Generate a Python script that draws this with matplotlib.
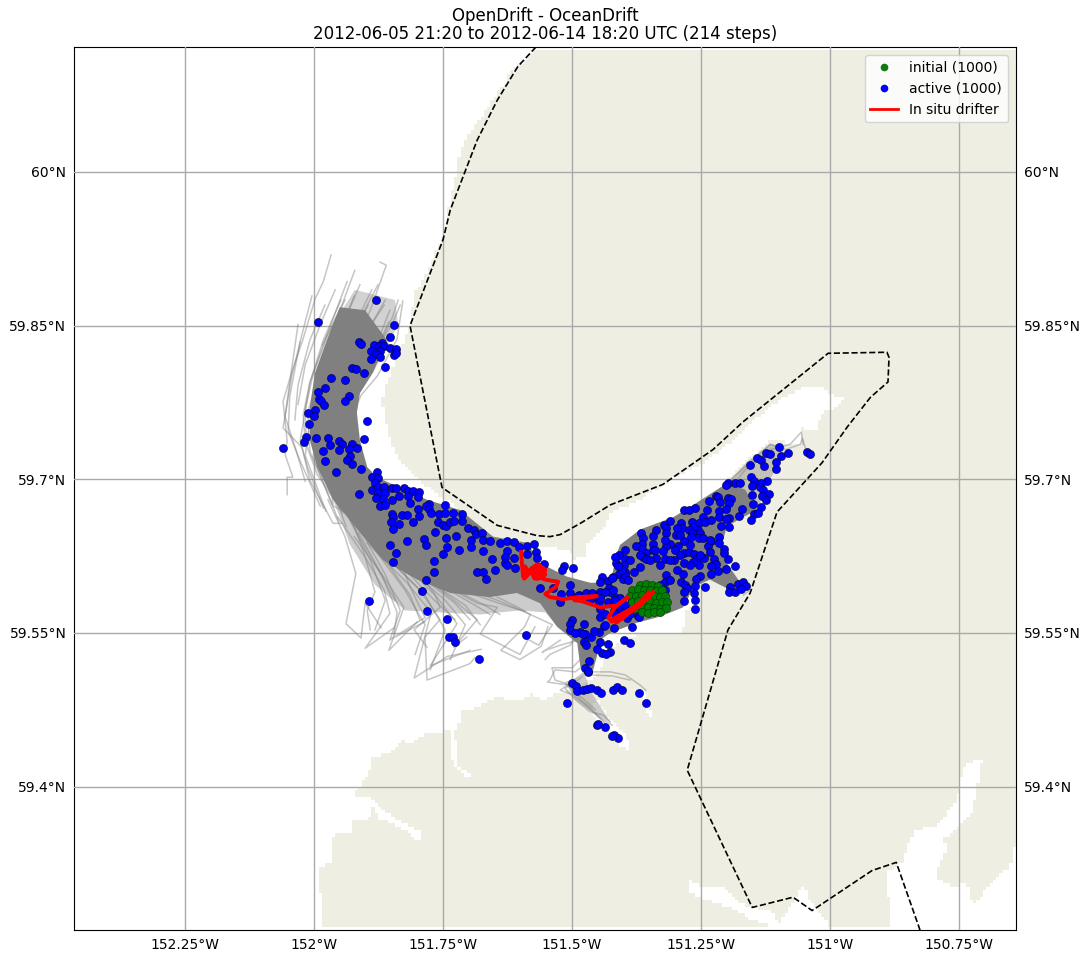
import matplotlib
matplotlib.use("Agg")
import matplotlib.pyplot as plt
import numpy as np
from matplotlib.colors import ListedColormap
from matplotlib.path import Path

lon_ticks = [-152.25, -152.0, -151.75, -151.5, -151.25, -151.0, -150.75]
lon_labels = ["152.25°W", "152°W", "151.75°W", "151.5°W", "151.25°W", "151°W", "150.75°W"]
lat_ticks = [60.0, 59.85, 59.7, 59.55, 59.4]
lat_labels = ["60°N", "59.85°N", "59.7°N", "59.55°N", "59.4°N"]

# dashed outline of the seeding/model domain
domain_lon = [-151.570, -151.605, -151.645, -151.684, -151.736, -151.750, -151.814, -151.752, -151.645,
              -151.568, -151.543, -151.523, -151.484, -151.426, -151.324, -151.227, -151.169, -151.004,
              -150.890, -150.886, -150.888, -150.922, -150.967, -151.016, -151.103, -151.155, -151.198,
              -151.277, -151.151, -151.072, -151.035, -150.919, -150.872, -150.826]
domain_lat = [60.122, 60.103, 60.070, 60.031, 59.963, 59.934, 59.850, 59.692, 59.655,
              59.645, 59.644, 59.646, 59.657, 59.675, 59.695, 59.729, 59.756, 59.823,
              59.824, 59.819, 59.795, 59.780, 59.751, 59.716, 59.668, 59.589, 59.553,
              59.416, 59.282, 59.292, 59.279, 59.318, 59.326, 59.260]

# water areas, everything else in the map is land
sea_main = [(-152.465, 60.122), (-151.570, 60.122), (-151.570, 60.119), (-151.605, 60.104), (-151.618, 60.100),
            (-151.630, 60.087), (-151.645, 60.077), (-151.662, 60.063), (-151.674, 60.055), (-151.701, 60.036),
            (-151.711, 60.028), (-151.721, 60.011), (-151.725, 59.997), (-151.734, 59.978), (-151.746, 59.943),
            (-151.789, 59.894), (-151.804, 59.883), (-151.814, 59.851), (-151.839, 59.817), (-151.862, 59.792),
            (-151.868, 59.775), (-151.862, 59.758), (-151.849, 59.734), (-151.833, 59.719), (-151.789, 59.696),
            (-151.756, 59.683), (-151.731, 59.677), (-151.692, 59.657), (-151.645, 59.641), (-151.581, 59.638),
            (-151.500, 59.629), (-151.498, 59.621), (-151.475, 59.626), (-151.475, 59.633), (-151.432, 59.657),
            (-151.426, 59.667), (-151.368, 59.680), (-151.310, 59.699), (-151.246, 59.716), (-151.188, 59.738),
            (-151.116, 59.772), (-151.064, 59.787), (-151.039, 59.792), (-151.019, 59.790), (-150.994, 59.782),
            (-150.965, 59.782), (-150.975, 59.779), (-150.996, 59.767), (-151.019, 59.765), (-151.023, 59.748),
            (-151.054, 59.750), (-151.058, 59.736), (-151.116, 59.737), (-151.161, 59.719), (-151.188, 59.706),
            (-151.213, 59.687), (-151.252, 59.673), (-151.252, 59.630), (-151.252, 59.592), (-151.281, 59.568),
            (-151.285, 59.551), (-151.329, 59.548), (-151.378, 59.548), (-151.417, 59.538), (-151.446, 59.531),
            (-151.442, 59.518), (-151.450, 59.508), (-151.446, 59.512), (-151.465, 59.504), (-151.494, 59.494),
            (-151.514, 59.492), (-151.537, 59.490), (-151.554, 59.485), (-151.578, 59.490), (-151.599, 59.485),
            (-151.626, 59.485), (-151.645, 59.490), (-151.665, 59.482), (-151.686, 59.477), (-151.713, 59.473),
            (-151.723, 59.455), (-151.734, 59.456), (-151.754, 59.453), (-151.783, 59.452), (-151.797, 59.448),
            (-151.816, 59.441), (-151.829, 59.446), (-151.851, 59.434), (-151.889, 59.428), (-151.893, 59.410),
            (-151.907, 59.407), (-151.909, 59.400), (-151.919, 59.395), (-151.919, 59.389), (-151.893, 59.390),
            (-151.878, 59.384), (-151.889, 59.377), (-151.893, 59.366), (-151.926, 59.366), (-151.928, 59.355),
            (-151.957, 59.355), (-151.967, 59.348), (-151.967, 59.326), (-151.990, 59.321), (-151.990, 59.302),
            (-151.984, 59.285), (-151.984, 59.258), (-152.465, 59.258)]
sea_south_east = [(-150.884, 59.258), (-150.884, 59.283), (-150.893, 59.316), (-150.859, 59.326), (-150.851, 59.341),
                  (-150.835, 59.358), (-150.793, 59.361), (-150.754, 59.387), (-150.742, 59.419), (-150.705, 59.428),
                  (-150.719, 59.390), (-150.723, 59.377), (-150.748, 59.361), (-150.783, 59.348), (-150.771, 59.341),
                  (-150.791, 59.322), (-150.791, 59.309), (-150.762, 59.302), (-150.735, 59.306), (-150.723, 59.283),
                  (-150.696, 59.302), (-150.651, 59.322), (-150.645, 59.341), (-150.635, 59.348), (-150.635, 59.258)]
sea_bottom_inlet = [(-151.277, 59.309), (-151.248, 59.302), (-151.209, 59.304), (-151.174, 59.286), (-151.151, 59.282),
                    (-151.112, 59.279), (-151.101, 59.264), (-151.052, 59.304), (-151.039, 59.289), (-151.006, 59.268),
                    (-151.000, 59.263), (-151.112, 59.263), (-151.151, 59.270), (-151.184, 59.280), (-151.242, 59.290),
                    (-151.277, 59.299)]
sea_thin_1 = [(-151.734, 59.456), (-151.727, 59.455), (-151.721, 59.421), (-151.698, 59.411), (-151.707, 59.408), (-151.733, 59.426)]
sea_thin_2 = [(-151.893, 59.390), (-151.878, 59.384), (-151.853, 59.372), (-151.814, 59.361), (-151.791, 59.356),
              (-151.795, 59.346), (-151.810, 59.353), (-151.843, 59.363), (-151.872, 59.368), (-151.882, 59.375)]
sea_streak_1 = [(-151.452, 59.485), (-151.426, 59.465), (-151.397, 59.451), (-151.384, 59.434), (-151.407, 59.441),
                (-151.436, 59.457), (-151.465, 59.473)]
sea_streak_2 = [(-151.374, 59.499), (-151.359, 59.490), (-151.343, 59.467), (-151.359, 59.475)]
sea_top = [(-151.570, 60.125), (-150.625, 60.125), (-150.625, 60.119), (-151.570, 60.119)]
sea_bottom = [(-152.465, 59.263), (-150.625, 59.263), (-150.625, 59.255), (-152.465, 59.255)]
water_areas = [sea_main, sea_south_east, sea_bottom_inlet, sea_thin_1, sea_thin_2, sea_streak_1, sea_streak_2, sea_top, sea_bottom]

# where the tracks overlap so much that they merge to solid grey
core_plume = [(-151.950, 59.868), (-151.975, 59.836), (-151.998, 59.804), (-152.008, 59.771), (-152.008, 59.738),
              (-151.994, 59.712), (-151.963, 59.680), (-151.911, 59.648), (-151.866, 59.621), (-151.800, 59.602),
              (-151.736, 59.589), (-151.659, 59.585), (-151.607, 59.589), (-151.562, 59.579), (-151.529, 59.556),
              (-151.490, 59.540), (-151.484, 59.517), (-151.459, 59.514), (-151.450, 59.531), (-151.446, 59.543),
              (-151.426, 59.550), (-151.374, 59.560), (-151.329, 59.566), (-151.285, 59.575), (-151.277, 59.582),
              (-151.265, 59.595), (-151.233, 59.602), (-151.194, 59.592), (-151.174, 59.599), (-151.200, 59.618),
              (-151.213, 59.631), (-151.200, 59.654), (-151.169, 59.663), (-151.141, 59.670), (-151.165, 59.690),
              (-151.200, 59.696), (-151.265, 59.675), (-151.304, 59.663), (-151.368, 59.651), (-151.407, 59.636),
              (-151.413, 59.628), (-151.426, 59.599), (-151.465, 59.599), (-151.510, 59.605), (-151.562, 59.618),
              (-151.587, 59.638), (-151.653, 59.644), (-151.717, 59.670), (-151.781, 59.680), (-151.839, 59.693),
              (-151.878, 59.702), (-151.897, 59.712), (-151.911, 59.738), (-151.917, 59.765), (-151.911, 59.784),
              (-151.886, 59.804), (-151.859, 59.836), (-151.901, 59.865)]
upper_fan = [(-151.969, 59.846), (-151.921, 59.885), (-151.843, 59.875), (-151.837, 59.851), (-151.882, 59.807),
             (-151.917, 59.782), (-151.988, 59.782)]
south_fan = [(-151.963, 59.680), (-151.930, 59.636), (-151.882, 59.597), (-151.824, 59.572), (-151.756, 59.570),
             (-151.678, 59.568), (-151.601, 59.572), (-151.552, 59.570), (-151.523, 59.553), (-151.552, 59.582),
             (-151.607, 59.592), (-151.736, 59.592), (-151.872, 59.626)]
lower_fan = [(-151.514, 59.502), (-151.475, 59.509), (-151.465, 59.494), (-151.426, 59.463), (-151.446, 59.467), (-151.494, 59.485)]
ne_arm = [(-151.265, 59.675), (-151.200, 59.696), (-151.161, 59.717), (-151.116, 59.735), (-151.087, 59.731),
          (-151.107, 59.709), (-151.126, 59.690), (-151.141, 59.670), (-151.213, 59.670)]
dense_areas = [(upper_fan, 0.35), (south_fan, 0.4), (lower_fan, 0.4), (ne_arm, 0.4)]

# single tracks that can still be followed by eye
tracks = [
    [(-151.967, 59.919), (-151.982, 59.893), (-151.998, 59.876), (-152.023, 59.834), (-152.041, 59.808), (-152.060, 59.776), (-152.052, 59.737), (-152.056, 59.724), (-152.041, 59.702), (-152.052, 59.702), (-152.052, 59.685)],
    [(-152.004, 59.879), (-152.021, 59.846), (-152.043, 59.801), (-152.060, 59.750), (-152.023, 59.731), (-152.008, 59.699), (-151.963, 59.657), (-151.946, 59.657)],
    [(-151.936, 59.893), (-151.975, 59.841), (-152.008, 59.795), (-152.021, 59.763), (-152.017, 59.737), (-151.994, 59.705), (-151.944, 59.667)],
    [(-151.872, 59.912), (-151.860, 59.909), (-151.891, 59.865), (-151.924, 59.829), (-151.959, 59.797), (-151.994, 59.764), (-151.992, 59.729), (-151.949, 59.709)],
    [(-151.828, 59.874), (-151.839, 59.837), (-151.877, 59.801), (-151.909, 59.782), (-151.930, 59.756), (-151.915, 59.707)],
    [(-151.855, 59.854), (-151.884, 59.821), (-151.915, 59.782), (-151.954, 59.756), (-151.973, 59.720), (-151.963, 59.674), (-151.909, 59.660)],
    [(-151.837, 59.875), (-151.849, 59.857), (-151.884, 59.821), (-151.926, 59.792), (-151.948, 59.753), (-151.928, 59.707)],
    [(-151.948, 59.875), (-151.982, 59.836), (-152.008, 59.794), (-152.027, 59.737), (-152.012, 59.711), (-151.982, 59.672)],
    [(-151.922, 59.879), (-151.954, 59.840), (-151.990, 59.801), (-152.012, 59.766), (-152.008, 59.727), (-151.965, 59.676)],
    [(-151.895, 59.870), (-151.928, 59.840), (-151.967, 59.805), (-151.994, 59.768), (-151.992, 59.727), (-151.936, 59.672)],
    [(-151.864, 59.870), (-151.909, 59.836), (-151.948, 59.805), (-151.977, 59.769), (-151.977, 59.730), (-151.919, 59.676)],
    [(-152.031, 59.851), (-152.047, 59.795), (-152.056, 59.761), (-152.037, 59.732), (-152.017, 59.698)],
    [(-152.027, 59.834), (-152.047, 59.781), (-152.050, 59.747), (-152.027, 59.718), (-151.988, 59.674)],
    [(-151.938, 59.848), (-151.977, 59.810), (-152.006, 59.766), (-152.017, 59.723), (-151.977, 59.669)],
    [(-151.905, 59.858), (-151.948, 59.815), (-151.983, 59.771), (-152.002, 59.722), (-151.952, 59.659)],
    [(-151.880, 59.836), (-151.924, 59.800), (-151.963, 59.761), (-151.983, 59.717), (-151.938, 59.654)],
    [(-151.911, 59.890), (-151.940, 59.856), (-151.969, 59.817), (-151.992, 59.782), (-151.998, 59.748)],
    [(-151.888, 59.885), (-151.921, 59.851), (-151.953, 59.812), (-151.979, 59.777), (-151.988, 59.738)],
    [(-151.940, 59.875), (-151.973, 59.841), (-152.002, 59.802), (-152.017, 59.768), (-152.015, 59.738)],
    [(-151.862, 59.875), (-151.895, 59.846), (-151.930, 59.812), (-151.959, 59.777)],
    [(-151.921, 59.904), (-151.946, 59.870), (-151.984, 59.831)],
    [(-151.959, 59.885), (-151.988, 59.851), (-152.017, 59.812), (-152.031, 59.773)],
    [(-151.979, 59.870), (-152.008, 59.836), (-152.031, 59.792), (-152.037, 59.758)],
    [(-151.853, 59.865), (-151.872, 59.841), (-151.901, 59.817)],
    [(-151.876, 59.890), (-151.907, 59.860), (-151.940, 59.831)],
    [(-151.833, 59.870), (-151.849, 59.851), (-151.882, 59.826)],
    [(-151.973, 59.680), (-151.940, 59.644), (-151.919, 59.608), (-151.938, 59.559), (-151.909, 59.545), (-151.901, 59.579), (-151.870, 59.555)],
    [(-151.954, 59.663), (-151.901, 59.624), (-151.864, 59.592), (-151.853, 59.569), (-151.901, 59.535), (-151.845, 59.555)],
    [(-151.922, 59.644), (-151.864, 59.604), (-151.826, 59.575), (-151.855, 59.533), (-151.800, 59.561)],
    [(-151.897, 59.638), (-151.820, 59.599), (-151.773, 59.570), (-151.806, 59.506), (-151.742, 59.527), (-151.676, 59.534)],
    [(-151.859, 59.624), (-151.795, 59.592), (-151.756, 59.563), (-151.785, 59.546), (-151.781, 59.504), (-151.698, 59.520), (-151.688, 59.526)],
    [(-151.820, 59.614), (-151.762, 59.585), (-151.723, 59.559), (-151.775, 59.518), (-151.698, 59.533)],
    [(-151.781, 59.602), (-151.729, 59.582), (-151.684, 59.563), (-151.729, 59.536), (-151.704, 59.546)],
    [(-151.742, 59.595), (-151.684, 59.579), (-151.645, 59.575), (-151.678, 59.549), (-151.601, 59.529), (-151.572, 59.556)],
    [(-151.703, 59.592), (-151.645, 59.582), (-151.581, 59.568), (-151.592, 59.556), (-151.638, 59.533), (-151.601, 59.524), (-151.560, 59.537), (-151.547, 59.556)],
    [(-151.806, 59.614), (-151.767, 59.589), (-151.756, 59.575), (-151.806, 59.553), (-151.781, 59.536)],
    [(-151.841, 59.631), (-151.814, 59.595), (-151.785, 59.565), (-151.851, 59.544), (-151.785, 59.561)],
    [(-151.913, 59.648), (-151.868, 59.606), (-151.839, 59.570), (-151.845, 59.549)],
    [(-151.936, 59.673), (-151.903, 59.628), (-151.882, 59.590), (-151.897, 59.572), (-151.891, 59.553)],
    [(-151.645, 59.585), (-151.605, 59.575), (-151.581, 59.568), (-151.538, 59.558), (-151.565, 59.538), (-151.590, 59.545)],
    [(-151.940, 59.670), (-151.891, 59.621), (-151.862, 59.582), (-151.882, 59.553)],
    [(-151.911, 59.651), (-151.862, 59.607), (-151.833, 59.572), (-151.853, 59.543)],
    [(-151.882, 59.631), (-151.824, 59.592), (-151.785, 59.558), (-151.804, 59.529)],
    [(-151.843, 59.616), (-151.785, 59.587), (-151.746, 59.553), (-151.775, 59.514)],
    [(-151.804, 59.607), (-151.746, 59.582), (-151.707, 59.558), (-151.736, 59.524)],
    [(-151.767, 59.597), (-151.707, 59.577), (-151.678, 59.558)],
    [(-151.727, 59.592), (-151.669, 59.577), (-151.640, 59.568)],
    [(-151.688, 59.587), (-151.630, 59.577), (-151.591, 59.571)],
    [(-151.862, 59.621), (-151.814, 59.587), (-151.795, 59.563)],
    [(-151.930, 59.660), (-151.876, 59.612), (-151.843, 59.582)],
    [(-151.824, 59.612), (-151.767, 59.582), (-151.727, 59.563)],
    [(-151.785, 59.602), (-151.727, 59.579), (-151.698, 59.563)],
    [(-151.746, 59.594), (-151.688, 59.577), (-151.659, 59.568)],
    [(-151.488, 59.543), (-151.523, 59.538), (-151.552, 59.533), (-151.558, 59.531), (-151.523, 59.543)],
    [(-151.475, 59.519), (-151.494, 59.512), (-151.533, 59.514), (-151.543, 59.504), (-151.548, 59.502), (-151.504, 59.499), (-151.484, 59.485), (-151.465, 59.477), (-151.446, 59.467), (-151.422, 59.460)],
    [(-151.465, 59.516), (-151.488, 59.504), (-151.514, 59.496), (-151.494, 59.485), (-151.465, 59.473), (-151.440, 59.470), (-151.426, 59.463)],
    [(-151.484, 59.524), (-151.500, 59.516), (-151.539, 59.516), (-151.533, 59.504), (-151.514, 59.501), (-151.488, 59.490), (-151.455, 59.475)],
    [(-151.465, 59.512), (-151.426, 59.512), (-151.397, 59.509), (-151.368, 59.499), (-151.357, 59.494)],
    [(-151.465, 59.509), (-151.422, 59.508), (-151.388, 59.504)],
    [(-151.484, 59.553), (-151.504, 59.538), (-151.543, 59.529), (-151.552, 59.524)],
    [(-151.475, 59.512), (-151.523, 59.494), (-151.500, 59.490), (-151.475, 59.480), (-151.432, 59.460)],
    [(-151.252, 59.665), (-151.194, 59.699), (-151.116, 59.734), (-151.087, 59.729), (-151.058, 59.734), (-151.054, 59.740), (-151.047, 59.729), (-151.039, 59.725)],
    [(-151.213, 59.680), (-151.165, 59.709), (-151.116, 59.729), (-151.078, 59.734), (-151.056, 59.746), (-151.052, 59.734)],
    [(-151.174, 59.599), (-151.155, 59.592), (-151.168, 59.587)],
]

# particles at their last position
active_west = [(-151.880, 59.875), (-151.992, 59.854), (-151.845, 59.851), (-151.853, 59.839), (-151.913, 59.834), (-151.909, 59.832),
               (-151.884, 59.831), (-151.868, 59.833), (-151.874, 59.830), (-151.864, 59.830), (-151.853, 59.828), (-151.841, 59.827),
               (-151.890, 59.825), (-151.872, 59.825), (-151.880, 59.822), (-151.872, 59.819), (-151.890, 59.817), (-151.845, 59.821),
               (-151.841, 59.823), (-151.862, 59.810), (-151.926, 59.809), (-151.919, 59.808), (-151.903, 59.804), (-151.967, 59.799),
               (-151.940, 59.797), (-151.979, 59.789), (-151.992, 59.785), (-151.932, 59.781), (-151.940, 59.776), (-151.990, 59.778),
               (-151.986, 59.776), (-151.981, 59.773), (-151.998, 59.768), (-152.012, 59.765), (-152.000, 59.762), (-151.897, 59.757),
               (-152.010, 59.754), (-152.016, 59.741), (-152.019, 59.736), (-151.996, 59.740), (-151.973, 59.740), (-151.952, 59.737),
               (-151.946, 59.734), (-151.903, 59.739), (-152.060, 59.731), (-151.969, 59.733), (-151.926, 59.734), (-151.916, 59.731),
               (-151.932, 59.730), (-151.952, 59.729), (-151.982, 59.728), (-151.930, 59.723), (-151.936, 59.719), (-151.979, 59.718),
               (-151.926, 59.715), (-151.909, 59.710), (-151.957, 59.707), (-151.878, 59.707), (-151.887, 59.702), (-151.876, 59.701),
               (-151.882, 59.696), (-151.887, 59.690), (-151.913, 59.686)]
active_north_shore = [(-151.876, 59.692), (-151.864, 59.692), (-151.849, 59.691), (-151.841, 59.691), (-151.826, 59.691), (-151.818, 59.689),
                      (-151.808, 59.689), (-151.797, 59.688), (-151.876, 59.687), (-151.862, 59.687), (-151.880, 59.682), (-151.866, 59.681),
                      (-151.849, 59.680), (-151.835, 59.684), (-151.818, 59.684), (-151.799, 59.683), (-151.872, 59.674), (-151.862, 59.675),
                      (-151.814, 59.677), (-151.799, 59.671), (-151.777, 59.676), (-151.783, 59.674), (-151.777, 59.671), (-151.773, 59.667),
                      (-151.746, 59.675), (-151.849, 59.666), (-151.847, 59.663), (-151.830, 59.665), (-151.820, 59.665), (-151.797, 59.664),
                      (-151.851, 59.658), (-151.835, 59.656), (-151.808, 59.658), (-151.847, 59.651), (-151.820, 59.640), (-151.787, 59.642),
                      (-151.766, 59.649), (-151.744, 59.643), (-151.725, 59.645), (-151.758, 59.666), (-151.746, 59.667), (-151.760, 59.658),
                      (-151.750, 59.655), (-151.744, 59.654), (-151.736, 59.658), (-151.729, 59.659), (-151.731, 59.667), (-151.713, 59.666),
                      (-151.713, 59.659), (-151.702, 59.652), (-151.690, 59.650), (-151.686, 59.647), (-151.674, 59.648), (-151.695, 59.641),
                      (-151.673, 59.641), (-151.660, 59.640), (-151.640, 59.638), (-151.626, 59.640), (-151.612, 59.639), (-151.602, 59.634),
                      (-151.587, 59.635), (-151.574, 59.637), (-151.570, 59.629), (-151.587, 59.627), (-151.673, 59.630), (-151.626, 59.630),
                      (-151.655, 59.622), (-151.630, 59.624), (-151.612, 59.623), (-151.630, 59.618), (-151.626, 59.616), (-151.610, 59.613),
                      (-151.568, 59.623), (-151.555, 59.617), (-151.516, 59.615), (-151.498, 59.613), (-151.519, 59.611), (-151.649, 59.611),
                      (-151.667, 59.603), (-151.684, 59.609), (-151.672, 59.609), (-151.696, 59.634), (-151.719, 59.631), (-151.742, 59.634),
                      (-151.750, 59.627), (-151.767, 59.620), (-151.768, 59.609), (-151.783, 59.602), (-151.791, 59.591), (-151.781, 59.571),
                      (-151.893, 59.581), (-151.841, 59.628), (-151.847, 59.619), (-151.853, 59.636), (-151.783, 59.636)]
active_south = [(-151.742, 59.564), (-151.738, 59.546), (-151.730, 59.546), (-151.726, 59.541), (-151.680, 59.525), (-151.589, 59.548),
                (-151.562, 59.594), (-151.537, 59.594), (-151.522, 59.588), (-151.504, 59.589), (-151.524, 59.580), (-151.486, 59.587),
                (-151.473, 59.589), (-151.460, 59.585), (-151.449, 59.587), (-151.446, 59.590), (-151.416, 59.585), (-151.420, 59.578),
                (-151.407, 59.574), (-151.446, 59.566), (-151.477, 59.559), (-151.500, 59.563), (-151.504, 59.559), (-151.485, 59.551),
                (-151.477, 59.541), (-151.463, 59.546), (-151.448, 59.551), (-151.446, 59.541), (-151.431, 59.539), (-151.427, 59.531),
                (-151.399, 59.543), (-151.388, 59.540), (-151.442, 59.530), (-151.504, 59.553), (-151.494, 59.550), (-151.475, 59.549),
                (-151.457, 59.552), (-151.479, 59.549), (-151.473, 59.538), (-151.452, 59.534), (-151.434, 59.529), (-151.467, 59.523),
                (-151.469, 59.512), (-151.475, 59.516), (-151.469, 59.513), (-151.500, 59.501), (-151.492, 59.498), (-151.490, 59.493),
                (-151.479, 59.494), (-151.471, 59.495), (-151.463, 59.496), (-151.452, 59.494), (-151.444, 59.491), (-151.420, 59.494),
                (-151.413, 59.497), (-151.403, 59.494), (-151.370, 59.491), (-151.357, 59.482), (-151.510, 59.482), (-151.452, 59.460),
                (-151.449, 59.461), (-151.436, 59.458), (-151.419, 59.450), (-151.411, 59.447), (-151.423, 59.449)]
active_ne = [(-151.099, 59.732), (-151.125, 59.726), (-151.116, 59.725), (-151.096, 59.723), (-151.082, 59.726), (-151.045, 59.727),
             (-151.039, 59.725), (-151.142, 59.721), (-151.134, 59.719), (-151.105, 59.717), (-151.129, 59.713), (-151.105, 59.710),
             (-151.156, 59.714), (-151.154, 59.702), (-151.148, 59.698), (-151.122, 59.698), (-151.134, 59.696), (-151.185, 59.696),
             (-151.175, 59.696), (-151.198, 59.696), (-151.202, 59.694), (-151.152, 59.693), (-151.136, 59.692), (-151.130, 59.690),
             (-151.119, 59.686), (-151.152, 59.685), (-151.132, 59.684), (-151.221, 59.684), (-151.217, 59.683), (-151.198, 59.682),
             (-151.192, 59.681), (-151.235, 59.679), (-151.214, 59.678), (-151.196, 59.677), (-151.124, 59.680), (-151.150, 59.676),
             (-151.134, 59.673), (-151.262, 59.672), (-151.283, 59.670), (-151.274, 59.670), (-151.238, 59.670), (-151.216, 59.669),
             (-151.202, 59.671), (-151.171, 59.671), (-151.148, 59.666), (-151.139, 59.667), (-151.196, 59.662), (-151.246, 59.663),
             (-151.216, 59.663), (-151.202, 59.661), (-151.177, 59.664), (-151.154, 59.660), (-151.310, 59.659), (-151.289, 59.657),
             (-151.268, 59.658), (-151.254, 59.657), (-151.243, 59.658), (-151.230, 59.660), (-151.212, 59.654), (-151.196, 59.653),
             (-151.256, 59.650), (-151.266, 59.653), (-151.287, 59.652), (-151.274, 59.650), (-151.322, 59.655), (-151.337, 59.650),
             (-151.318, 59.652), (-151.297, 59.652), (-151.252, 59.648), (-151.268, 59.648), (-151.366, 59.648), (-151.362, 59.643),
             (-151.343, 59.645), (-151.318, 59.648), (-151.299, 59.646), (-151.269, 59.644), (-151.254, 59.643), (-151.216, 59.644),
             (-151.343, 59.637), (-151.283, 59.640), (-151.295, 59.635), (-151.311, 59.637), (-151.231, 59.640), (-151.246, 59.643),
             (-151.216, 59.638), (-151.237, 59.635), (-151.364, 59.637), (-151.376, 59.635), (-151.364, 59.632), (-151.318, 59.635),
             (-151.324, 59.630), (-151.343, 59.631), (-151.357, 59.628), (-151.301, 59.631), (-151.206, 59.632), (-151.233, 59.629),
             (-151.206, 59.628), (-151.409, 59.626), (-151.417, 59.624), (-151.362, 59.624), (-151.397, 59.622), (-151.357, 59.622),
             (-151.337, 59.623), (-151.320, 59.622), (-151.303, 59.621), (-151.283, 59.628), (-151.273, 59.629), (-151.264, 59.627),
             (-151.258, 59.623), (-151.245, 59.623), (-151.414, 59.618), (-151.399, 59.616), (-151.225, 59.622), (-151.221, 59.617),
             (-151.198, 59.622), (-151.231, 59.615), (-151.254, 59.616), (-151.266, 59.619), (-151.283, 59.618), (-151.184, 59.615),
             (-151.202, 59.612), (-151.217, 59.610), (-151.231, 59.608), (-151.252, 59.606), (-151.260, 59.603), (-151.285, 59.608),
             (-151.318, 59.607), (-151.380, 59.609), (-151.397, 59.609), (-151.409, 59.608), (-151.442, 59.605), (-151.430, 59.601),
             (-151.420, 59.605), (-151.401, 59.603), (-151.320, 59.600), (-151.330, 59.597), (-151.289, 59.600), (-151.281, 59.597),
             (-151.262, 59.596), (-151.243, 59.595), (-151.194, 59.595), (-151.179, 59.598), (-151.169, 59.600), (-151.163, 59.596),
             (-151.196, 59.590), (-151.185, 59.590), (-151.173, 59.593), (-151.277, 59.594), (-151.283, 59.590), (-151.264, 59.589),
             (-151.262, 59.582), (-151.283, 59.581), (-151.262, 59.573), (-151.429, 59.594), (-151.461, 59.589), (-151.446, 59.586),
             (-151.426, 59.590), (-151.408, 59.584), (-151.414, 59.579), (-151.446, 59.587), (-151.448, 59.580), (-151.430, 59.580),
             (-151.418, 59.578), (-151.446, 59.573), (-151.418, 59.571), (-151.411, 59.569), (-151.394, 59.565), (-151.372, 59.567),
             (-151.438, 59.557), (-151.418, 59.555), (-151.384, 59.556), (-151.370, 59.566)]
active_inner = [(-151.397, 59.607), (-151.368, 59.614), (-151.349, 59.621), (-151.388, 59.621), (-151.403, 59.611), (-151.422, 59.604),
                (-151.436, 59.590), (-151.417, 59.582), (-151.436, 59.568), (-151.417, 59.568), (-151.388, 59.568), (-151.397, 59.577),
                (-151.384, 59.582), (-151.392, 59.602), (-151.329, 59.616), (-151.310, 59.621), (-151.291, 59.626), (-151.271, 59.616),
                (-151.320, 59.592), (-151.310, 59.602), (-151.297, 59.611), (-151.271, 59.636), (-151.252, 59.626), (-151.233, 59.641),
                (-151.291, 59.646), (-151.320, 59.641), (-151.339, 59.631), (-151.368, 59.626), (-151.397, 59.631), (-151.411, 59.615),
                (-151.420, 59.592), (-151.446, 59.584), (-151.465, 59.582), (-151.488, 59.586), (-151.504, 59.597), (-151.446, 59.600),
                (-151.436, 59.558), (-151.392, 59.571)]

initial_lon = [-151.368, -151.357, -151.345, -151.333,
               -151.384, -151.372, -151.360, -151.349, -151.337, -151.326,
               -151.388, -151.376, -151.364, -151.353, -151.341, -151.329, -151.320,
               -151.384, -151.372, -151.360, -151.349, -151.337, -151.326, -151.316,
               -151.376, -151.364, -151.353, -151.341, -151.329, -151.318,
               -151.364, -151.353, -151.341, -151.329]
initial_lat = [59.597, 59.598, 59.597, 59.596,
               59.592, 59.593, 59.592, 59.592, 59.591, 59.592,
               59.586, 59.586, 59.587, 59.586, 59.586, 59.585, 59.586,
               59.580, 59.581, 59.580, 59.580, 59.579, 59.580, 59.580,
               59.574, 59.574, 59.575, 59.574, 59.573, 59.574,
               59.570, 59.569, 59.570, 59.570]

drifter_lon = [-151.599, -151.595, -151.591, -151.583, -151.593, -151.579, -151.566, -151.552, -151.556, -151.572,
               -151.581, -151.564, -151.552, -151.566, -151.576, -151.560, -151.570, -151.582, -151.558, -151.574, -151.566, -151.552, -151.527, -151.531,
               -151.552, -151.543, -151.517, -151.488, -151.452, -151.496, -151.481, -151.446, -151.413, -151.392,
               -151.417, -151.430, -151.423, -151.403, -151.368, -151.343, -151.368, -151.407, -151.423, -151.388, -151.349,
               -151.360, -151.398, -151.415, -151.378, -151.352]
drifter_lat = [59.629, 59.605, 59.615, 59.608, 59.603, 59.613, 59.617, 59.612, 59.604, 59.603,
               59.611, 59.614, 59.607, 59.603, 59.608, 59.612, 59.616, 59.610, 59.608, 59.604, 59.605, 59.602, 59.600, 59.595,
               59.588, 59.585, 59.583, 59.585, 59.586, 59.582, 59.581, 59.575, 59.577, 59.585,
               59.575, 59.565, 59.561, 59.565, 59.577, 59.590, 59.579, 59.563, 59.563, 59.573, 59.585,
               59.584, 59.566, 59.560, 59.575, 59.589]

fig = plt.figure(figsize=(10.9, 9.61), dpi=100)
ax = fig.add_axes([74 / 1090, 1 - 930 / 961, 942 / 1090, 883 / 961])
ax.set_xlim(-152.465, -150.640)
ax.set_ylim(59.260, 60.122)

# land is painted on a coarse grid, like the blocky coast of the original
lon_edges = np.linspace(-152.465, -150.640, 286)
lat_edges = np.linspace(59.260, 60.122, 266)
lon_mid, lat_mid = np.meshgrid((lon_edges[:-1] + lon_edges[1:]) / 2, (lat_edges[:-1] + lat_edges[1:]) / 2)
cells = np.column_stack([lon_mid.ravel(), lat_mid.ravel()])
is_land = np.ones(len(cells), dtype=bool)
for area in water_areas:
    is_land &= ~Path(area).contains_points(cells)
land_grid = np.ma.masked_where(~is_land.reshape(lon_mid.shape), np.ones(lon_mid.shape))
ax.pcolormesh(lon_edges, lat_edges, land_grid, cmap=ListedColormap(["#eeeee3"]), zorder=1)

ax.grid(True, color="darkgray", linewidth=1.0, zorder=2)
ax.set_axisbelow(False)
for gl in ax.get_xgridlines() + ax.get_ygridlines():
    gl.set_zorder(2)

ax.plot(domain_lon, domain_lat, color="black", linestyle="--", linewidth=1.2, zorder=3)

for area, opacity in dense_areas:
    ax.fill([p[0] for p in area], [p[1] for p in area], color="gray", alpha=opacity, linewidth=0, zorder=4)
ax.fill([p[0] for p in core_plume], [p[1] for p in core_plume], color="gray", linewidth=0, zorder=4)
for track in tracks:
    ax.plot([p[0] for p in track], [p[1] for p in track], color="gray", alpha=0.45, linewidth=1.1, zorder=5)

active = active_west + active_north_shore + active_south + active_ne + active_inner
ax.scatter([p[0] for p in active], [p[1] for p in active], s=34, color="blue", edgecolors="#000033",
           linewidths=0.4, zorder=6)
ax.scatter(initial_lon, initial_lat, s=34, color="green", edgecolors="#003300", linewidths=0.4, zorder=7)
ax.plot(drifter_lon, drifter_lat, color="red", linewidth=2.8, zorder=8)

ax.plot([], [], "o", color="#117a11", markersize=4.5, label="initial (1000)")
ax.plot([], [], "o", color="blue", markersize=4.5, label="active (1000)")
ax.plot([], [], color="red", linewidth=2, label="In situ drifter")
ax.legend(loc="upper right", fontsize=10, framealpha=0.8, borderaxespad=0.6)

ax.set_xticks(lon_ticks)
ax.set_xticklabels(lon_labels)
ax.set_yticks(lat_ticks)
ax.set_yticklabels(lat_labels)
ax.tick_params(length=0, labelsize=10, labelright=True, pad=5.5)
ax.set_title("OpenDrift - OceanDrift\n2012-06-05 21:20 to 2012-06-14 18:20 UTC (214 steps)", fontsize=12, linespacing=0.95)

fig.savefig("out.png", dpi=100)
